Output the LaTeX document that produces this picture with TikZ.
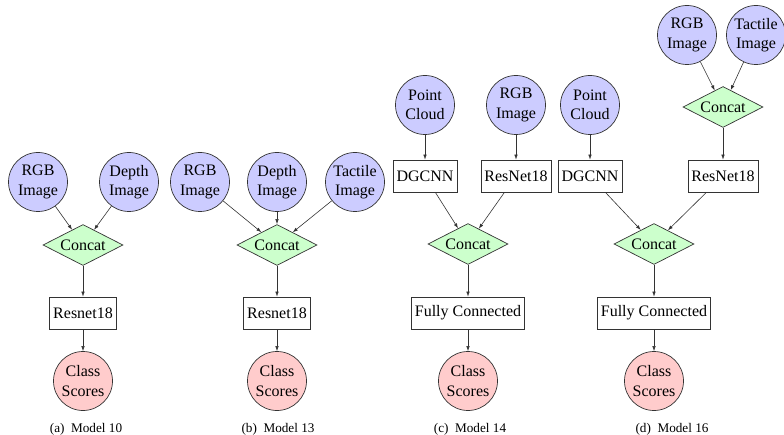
\documentclass[tikz,border=0pt]{standalone}
\usepackage{fontspec}
\setmainfont{Liberation Serif}
\usetikzlibrary{shapes.geometric,arrows.meta}
\begin{document}
\begin{tikzpicture}[x=1pt,y=-1pt,
  every node/.style={font=\fontsize{16}{19.5}\selectfont, line width=0.7pt, draw=black!80, align=center},
  inputnode/.style={circle, fill=blue!20, minimum size=59pt, inner sep=0pt},
  outputnode/.style={circle, fill=red!20, minimum size=59pt, inner sep=0pt},
  fusenode/.style={diamond, fill=green!20, aspect=2, inner sep=0pt, minimum width=80pt, minimum height=41pt},
  netbox/.style={rectangle, fill=white, minimum height=32pt, inner xsep=3.5pt, inner ysep=0pt},
  captext/.style={draw=none, font=\fontsize{13.2}{15}\selectfont},
  flow/.style={line width=0.6pt, draw=black!80, -{Latex[length=5pt,width=3.5pt]}}]
\useasboundingbox (0,0) rectangle (784,435);

% (a) Model 10
\node[inputnode] (argb) at (38,182) {RGB\\Image};
\node[inputnode] (adep) at (129,182) {Depth\\Image};
\node[fusenode] (acat) at (83,245) {Concat};
\node[netbox] (ares) at (83,313) {Resnet18};
\node[outputnode] (acls) at (83,381) {Class\\Scores};
\node[captext] (acap) at (86,429) {(a)\ \ Model 10};
\draw[flow] (argb) -- (acat);
\draw[flow] (adep) -- (acat);
\draw[flow] (acat) -- (ares);
\draw[flow] (ares) -- (acls);

% (b) Model 13
\node[inputnode] (brgb) at (200,182) {RGB\\Image};
\node[inputnode] (bdep) at (277,182) {Depth\\Image};
\node[inputnode] (btac) at (355,182) {Tactile\\Image};
\node[fusenode] (bcat) at (277,245) {Concat};
\node[netbox] (bres) at (277,313) {Resnet18};
\node[outputnode] (bcls) at (277,381) {Class\\Scores};
\node[captext] (bcap) at (278,429) {(b)\ \ Model 13};
\draw[flow] (brgb) -- (bcat);
\draw[flow] (bdep) -- (bcat);
\draw[flow] (btac) -- (bcat);
\draw[flow] (bcat) -- (bres);
\draw[flow] (bres) -- (bcls);

% (c) Model 14
\node[inputnode] (cpc) at (425,105) {Point\\Cloud};
\node[inputnode] (crgb) at (516,105) {RGB\\Image};
\node[netbox] (cdg) at (425,176) {DGCNN};
\node[netbox] (cres) at (516,176) {ResNet18};
\node[fusenode] (ccat) at (468,244) {Concat};
\node[netbox] (cfc) at (468,313) {Fully Connected};
\node[outputnode] (ccls) at (468,381) {Class\\Scores};
\node[captext] (ccap) at (470,429) {(c)\ \ Model 14};
\draw[flow] (cpc) -- (cdg);
\draw[flow] (crgb) -- (cres);
\draw[flow] (cdg) -- (ccat);
\draw[flow] (cres) -- (ccat);
\draw[flow] (ccat) -- (cfc);
\draw[flow] (cfc) -- (ccls);

% (d) Model 16
\node[inputnode] (dpc) at (590,105) {Point\\Cloud};
\node[netbox] (ddg) at (590,176) {DGCNN};
\node[inputnode] (drgb) at (687,35) {RGB\\Image};
\node[inputnode] (dtac) at (756,35) {Tactile\\Image};
\node[fusenode] (dcatA) at (723,107) {Concat};
\node[netbox] (dres) at (723,176) {ResNet18};
\node[fusenode] (dcat) at (654,244) {Concat};
\node[netbox] (dfc) at (654,313) {Fully Connected};
\node[outputnode] (dcls) at (654,381) {Class\\Scores};
\node[captext] (dcap) at (672,429) {(d)\ \ Model 16};
\draw[flow] (dpc) -- (ddg);
\draw[flow] (drgb) -- (dcatA);
\draw[flow] (dtac) -- (dcatA);
\draw[flow] (dcatA) -- (dres);
\draw[flow] (ddg) -- (dcat);
\draw[flow] (dres) -- (dcat);
\draw[flow] (dcat) -- (dfc);
\draw[flow] (dfc) -- (dcls);
\end{tikzpicture}
\end{document}
